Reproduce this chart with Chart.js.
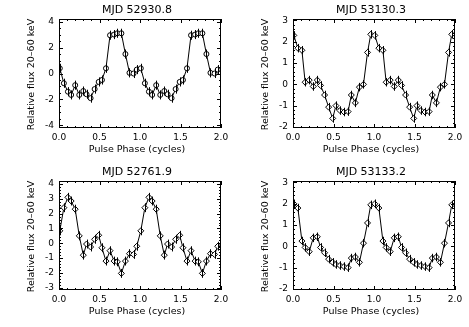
<!DOCTYPE html>
<html>
<head>
<meta charset="utf-8">
<script src="https://cdn.jsdelivr.net/npm/chart.js@4"></script>
<style>
  body { margin: 0; background: #fff; width: 469px; height: 327px; overflow: hidden; }
  .panel { position: absolute; width: 234px; height: 163px; }
</style>
</head>
<body>
<div class="panel" style="left:0;top:0"><canvas id="c1" width="234" height="163"></canvas></div>
<div class="panel" style="left:234px;top:0"><canvas id="c2" width="234" height="163"></canvas></div>
<div class="panel" style="left:0;top:162px"><canvas id="c3" width="234" height="163"></canvas></div>
<div class="panel" style="left:234px;top:162px"><canvas id="c4" width="234" height="163"></canvas></div>
<script>
// pulse phase of each bin, two cycles
const phase = [0.01, 0.06, 0.11, 0.15, 0.20, 0.25, 0.30, 0.34, 0.39, 0.44, 0.49,
  0.53, 0.58, 0.63, 0.68, 0.72, 0.77, 0.82, 0.87, 0.92, 0.96,
  1.01, 1.06, 1.11, 1.15, 1.20, 1.25, 1.30, 1.34, 1.39, 1.44, 1.49,
  1.53, 1.58, 1.63, 1.68, 1.72, 1.77, 1.82, 1.87, 1.92, 1.96];

const flux52930 = [0.4, -0.75, -1.4, -1.65, -0.9, -1.65, -1.35, -1.6, -1.9, -1.2, -0.65,
  -0.5, 0.4, 2.95, 3.0, 3.1, 3.1, 1.5, 0.05, 0.0, 0.3,
  0.4, -0.75, -1.4, -1.65, -0.9, -1.65, -1.35, -1.6, -1.9, -1.2, -0.65,
  -0.5, 0.4, 2.95, 3.0, 3.1, 3.1, 1.5, 0.05, 0.0, 0.3];

const flux53130 = [2.3, 1.7, 1.6, 0.1, 0.2, -0.1, 0.2, -0.05, -0.5, -1.07, -1.6,
  -1.0, -1.23, -1.3, -1.28, -0.5, -0.87, -0.13, 0.0, 1.5, 2.35,
  2.3, 1.7, 1.6, 0.1, 0.2, -0.1, 0.2, -0.05, -0.5, -1.07, -1.6,
  -1.0, -1.23, -1.3, -1.28, -0.5, -0.87, -0.13, 0.0, 1.5, 2.35];

const flux52761 = [0.84, 2.4, 3.1, 2.85, 2.3, 0.5, -0.8, -0.05, -0.25, 0.27, 0.54,
  -0.3, -1.2, -0.5, -1.2, -1.25, -2.03, -1.2, -0.7, -0.75, -0.2,
  0.84, 2.4, 3.1, 2.85, 2.3, 0.5, -0.8, -0.05, -0.25, 0.27, 0.54,
  -0.3, -1.2, -0.5, -1.2, -1.25, -2.03, -1.2, -0.7, -0.75, -0.2];

const flux53133 = [2.0, 1.8, 0.25, -0.05, -0.25, 0.4, 0.45, -0.05, -0.3, -0.6, -0.75,
  -0.85, -0.9, -0.95, -1.0, -0.55, -0.5, -0.75, 0.15, 1.1, 1.95,
  2.0, 1.8, 0.25, -0.05, -0.25, 0.4, 0.45, -0.05, -0.3, -0.6, -0.75,
  -0.85, -0.9, -0.95, -1.0, -0.55, -0.5, -0.75, 0.15, 1.1, 1.95];

const xTicks = [0, 0.5, 1.0, 1.5, 2.0];
const yTicksA = [-4, -2, 0, 2, 4];
const yTicksB = [-2, -1, 0, 1, 2, 3];
const yTicksC = [-3, -2, -1, 0, 1, 2, 3, 4];

const FONT = "DejaVu Sans";

// box round the plot, inward ticks, error bars and texts
const idlFrame = {
  id: "idlFrame",
  afterDatasetsDraw(chart, args, opts) {
    const ctx = chart.ctx;
    const { left, right, top, bottom } = chart.chartArea;
    const xs = chart.scales.x;
    const ys = chart.scales.y;
    ctx.save();
    ctx.strokeStyle = "#000";
    ctx.lineWidth = 1;

    // error bars
    chart.data.datasets[0].data.forEach((p) => {
      const px = Math.round(xs.getPixelForValue(p.x)) + 0.5;
      ctx.beginPath();
      ctx.moveTo(px, ys.getPixelForValue(p.y - opts.err));
      ctx.lineTo(px, ys.getPixelForValue(p.y + opts.err));
      ctx.stroke();
    });

    ctx.strokeRect(left + 0.5, top + 0.5, right - left - 1, bottom - top - 1);

    ctx.beginPath();
    for (let v = 0; v <= 2.0001; v += 0.1) {
      const len = Math.abs(v * 2 - Math.round(v * 2)) < 0.001 ? 4 : 2;
      const px = Math.round(xs.getPixelForValue(v)) + 0.5;
      ctx.moveTo(px, bottom);
      ctx.lineTo(px, bottom - len);
      ctx.moveTo(px, top);
      ctx.lineTo(px, top + len);
    }
    const t = opts.yTicks;
    for (let v = t[0]; v <= t[t.length - 1] + 0.0001; v += opts.minor) {
      const major = t.some((m) => Math.abs(m - v) < 0.001);
      const len = major ? 4 : 2;
      const py = Math.round(ys.getPixelForValue(v)) + 0.5;
      ctx.moveTo(left, py);
      ctx.lineTo(left + len, py);
      ctx.moveTo(right, py);
      ctx.lineTo(right - len, py);
    }
    ctx.stroke();

    ctx.fillStyle = "#000";
    ctx.textAlign = "center";
    ctx.textBaseline = "middle";
    ctx.font = "11px '" + FONT + "'";
    ctx.fillText(opts.title, (left + right) / 2 - 3, top - 9);
    ctx.font = "9.5px '" + FONT + "'";
    ctx.fillText("Pulse Phase (cycles)", (left + right) / 2 - 3, bottom + 22);
    ctx.translate(32, (top + bottom) / 2 + 1);
    ctx.rotate(-Math.PI / 2);
    ctx.fillText("Relative flux 20\u201360 keV", 0, 0);
    ctx.restore();
  },
};

function makePanel(id, title, flux, yMin, yMax, yTicks, minor, err, marker) {
  const points = phase.map((p, i) => ({ x: p, y: flux[i] }));
  return new Chart(document.getElementById(id), {
    type: "line",
    data: {
      datasets: [
        {
          data: points,
          borderColor: "#000",
          borderWidth: 1,
          tension: 0,
          pointStyle: marker,
          pointRadius: marker === "circle" ? 2.5 : 3,
          pointBackgroundColor: "#fff",
          pointBorderColor: "#000",
          pointBorderWidth: 1,
        },
      ],
    },
    options: {
      responsive: false,
      animation: false,
      devicePixelRatio: 1,
      layout: { padding: { top: 19, right: 13, left: 0, bottom: 0 } },
      plugins: {
        legend: { display: false },
        tooltip: { enabled: false },
        idlFrame: { title: title, yTicks: yTicks, minor: minor, err: err },
      },
      scales: {
        x: {
          type: "linear",
          min: 0,
          max: 2,
          grid: { display: false, drawTicks: false },
          border: { display: false },
          afterBuildTicks: (s) => { s.ticks = xTicks.map((v) => ({ value: v })); },
          afterFit: (s) => { s.height = 35; },
          ticks: {
            padding: 4,
            color: "#000",
            maxRotation: 0,
            font: { family: FONT, size: 9 },
            callback: (v) => Number(v).toFixed(1),
          },
        },
        y: {
          min: yMin,
          max: yMax,
          grid: { display: false, drawTicks: false },
          border: { display: false },
          afterBuildTicks: (s) => { s.ticks = yTicks.map((v) => ({ value: v })); },
          afterFit: (s) => { s.width = 59; },
          ticks: {
            padding: 5,
            color: "#000",
            font: { family: FONT, size: 9 },
            callback: (v) => String(v),
          },
        },
      },
    },
    plugins: [idlFrame],
  });
}

makePanel("c1", "MJD 52930.8", flux52930, -4.2, 4.2, yTicksA, 0.5, 0.35, "circle");
makePanel("c2", "MJD 53130.3", flux53130, -2.05, 3.07, yTicksB, 0.2, 0.2, "rectRot");
makePanel("c3", "MJD 52761.9", flux52761, -3.15, 4.2, yTicksC, 0.2, 0.3, "rectRot");
makePanel("c4", "MJD 53133.2", flux53133, -2.05, 3.07, yTicksB, 0.2, 0.2, "rectRot");
</script>
</body>
</html>
